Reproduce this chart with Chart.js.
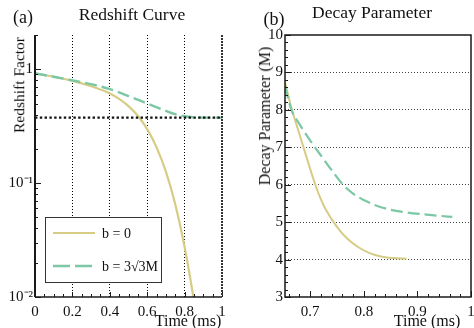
<!DOCTYPE html>
<html><head><meta charset="utf-8">
<script src="https://cdn.jsdelivr.net/npm/chart.js@4/dist/chart.umd.min.js"></script>
<style>
body{margin:0;background:#fff;}
#wrap{position:relative;width:474px;height:328px;overflow:hidden;font-family:"Liberation Serif","Times New Roman",serif;color:#111;}
.cv{position:absolute;top:0;}
.t{position:absolute;white-space:nowrap;line-height:1;transform:translate(-50%,-50%);}
.r{transform:translate(-50%,-50%) rotate(-90deg);}
</style></head>
<body><div id="wrap">
<canvas id="c1" class="cv" width="237" height="328" style="left:0"></canvas>
<canvas id="c2" class="cv" width="237" height="328" style="left:237px"></canvas>
<div class="t" style="left:23px;top:17px;font-size:18px">(a)</div>
<div class="t" style="left:132px;top:15px;font-size:17.5px">Redshift Curve</div>
<div class="t" style="left:274px;top:19px;font-size:18px">(b)</div>
<div class="t" style="left:372px;top:13px;font-size:17.5px">Decay Parameter</div>
<div class="t r" style="left:19px;top:85px;font-size:15.5px">Redshift Factor</div>
<div class="t r" style="left:265px;top:116px;font-size:16px">Decay Parameter (M)</div>
<div class="t" style="left:188px;top:321px;font-size:16px">Time (ms)</div>
<div class="t" style="left:427px;top:321px;font-size:16px">Time (ms)</div>
</div>
<script>
// ---- data: panel (a) Redshift Curve ----
const redshiftTimeB0 = [0, 0.1, 0.2, 0.3, 0.4, 0.45, 0.5, 0.55, 0.6, 0.65, 0.7, 0.75, 0.8, 0.85, 0.9];
const redshiftB0     = [0.920, 0.859, 0.791, 0.710, 0.614, 0.550, 0.475, 0.391, 0.298, 0.206, 0.126, 0.0653, 0.0275, 0.0092, 0.00245];
const redshiftTimeB3 = [0, 0.1, 0.2, 0.3, 0.4, 0.5, 0.6, 0.7, 0.75, 0.8, 0.85, 0.9, 1.0];
const redshiftB3     = [0.920, 0.859, 0.800, 0.740, 0.670, 0.582, 0.501, 0.431, 0.403, 0.387, 0.379, 0.376, 0.376];
const redshiftLimitTime = [0, 1];
const redshiftLimit     = [0.376, 0.376];
const redshiftXTicks = [0, 0.2, 0.4, 0.6, 0.8, 1];
const redshiftXTickLabels = ['0', '0.2', '0.4', '0.6', '0.8', '1'];
const redshiftYTicks = [0.01, 0.1, 1];
const redshiftYTickLabels = ['10\u207B\u00B2', '10\u207B\u00B9', '1'];
// ---- data: panel (b) Decay Parameter ----
const decayTimeB0 = [0.653, 0.665, 0.68, 0.695, 0.71, 0.725, 0.74, 0.755, 0.77, 0.79, 0.81, 0.83, 0.855, 0.88];
const decayB0     = [8.74, 8.05, 7.35, 6.65, 5.98, 5.45, 5.08, 4.78, 4.55, 4.33, 4.18, 4.09, 4.04, 4.02];
const decayTimeB3 = [0.653, 0.665, 0.68, 0.70, 0.72, 0.74, 0.76, 0.78, 0.80, 0.82, 0.85, 0.88, 0.91, 0.94, 0.965];
const decayB3     = [8.62, 8.00, 7.62, 7.18, 6.78, 6.39, 6.02, 5.76, 5.59, 5.46, 5.33, 5.26, 5.21, 5.17, 5.14];
const decayXTicks = [0.7, 0.8, 0.9, 1];
const decayXTickLabels = ['0.7', '0.8', '0.9', '1'];
const decayYTicks = [3, 4, 5, 6, 7, 8, 9, 10];
const seriesLabels = ['b = 0', 'b = 3\u221A3M'];

const YELLOW = '#d6cc85', TEAL = '#7cc7a4', INK = '#1a1a1a';
const FONT = '"Liberation Serif","Times New Roman",serif';
const pts = (xs, ys) => xs.map((x, i) => ({x, y: ys[i]}));

function fixAxis(size) {
  return function (scale) {
    if (scale.isHorizontal()) scale.height = size; else scale.width = size;
    scale.paddingLeft = 0; scale.paddingRight = 0; scale.paddingTop = 0; scale.paddingBottom = 0;
  };
}
function setTicks(values) {
  return function (scale) { scale.ticks = values.map(v => ({value: v})); };
}
function labelFrom(values, labels) {
  return function (v) { const i = values.findIndex(u => Math.abs(u - v) < 1e-9); return i >= 0 ? labels[i] : ''; };
}

const decor = {
  id: 'decor',
  afterDatasetsDraw(chart, args, o) {
    const ctx = chart.ctx, a = chart.chartArea, xs = chart.scales.x, ys = chart.scales.y;
    ctx.save();
    ctx.strokeStyle = INK; ctx.lineWidth = 1; ctx.setLineDash([]);
    o.xTicks.forEach(t => {
      const px = Math.round(xs.getPixelForValue(t.v)) + 0.5;
      ctx.beginPath(); ctx.moveTo(px, a.bottom); ctx.lineTo(px, a.bottom - t.len); ctx.stroke();
    });
    o.yTicks.forEach(t => {
      const py = Math.round(ys.getPixelForValue(t.v)) + 0.5;
      ctx.beginPath(); ctx.moveTo(a.left, py); ctx.lineTo(a.left + t.len, py); ctx.stroke();
    });
    if (o.fullFrame) {
      ctx.lineWidth = 1.5;
      ctx.strokeRect(a.left, a.top, a.right - a.left, a.bottom - a.top);
    } else {
      ctx.lineWidth = 2;
      ctx.beginPath(); ctx.moveTo(a.left, a.top); ctx.lineTo(a.left, a.bottom); ctx.stroke();
      ctx.lineWidth = 1.5;
      ctx.beginPath(); ctx.moveTo(a.left, a.bottom); ctx.lineTo(a.right, a.bottom); ctx.stroke();
      ctx.lineWidth = 2; ctx.strokeStyle = '#333'; ctx.setLineDash([2, 1]);
      ctx.beginPath(); ctx.moveTo(a.right, a.top); ctx.lineTo(a.right, a.bottom); ctx.stroke();
      ctx.setLineDash([]);
    }
    if (o.legend) {
      const L = o.legend;
      ctx.fillStyle = '#fff'; ctx.strokeStyle = '#333'; ctx.lineWidth = 1;
      ctx.fillRect(L.x, L.y, L.w, L.h); ctx.strokeRect(L.x + 0.5, L.y + 0.5, L.w, L.h);
      const dsets = chart.data.datasets.filter(d => d.inLegend);
      dsets.forEach((d, i) => {
        const y = L.rowY[i];
        ctx.strokeStyle = d.borderColor; ctx.lineWidth = d.borderWidth;
        ctx.setLineDash(L.dash[i]);
        ctx.beginPath(); ctx.moveTo(L.lineX0, y); ctx.lineTo(L.lineX1, y); ctx.stroke();
        ctx.setLineDash([]);
        ctx.fillStyle = '#111'; ctx.font = '14px ' + FONT; ctx.textBaseline = 'middle'; ctx.textAlign = 'left';
        ctx.fillText(d.label, L.textX, y + 1);
      });
    }
    ctx.restore();
  }
};

Chart.defaults.font.family = FONT;
Chart.defaults.color = '#111';

// tick-mark positions (drawing aids, not data)
const aXT = []; for (let k = 0; k <= 20; k++) aXT.push({v: k * 0.05, len: (k % 4 === 0) ? 5 : 3});
const aYT = [];
[0.01, 0.1, 1].forEach(d => { for (let m = 1; m <= 9; m++) { const v = d * m; if (v <= 2.0001) aYT.push({v, len: m === 1 ? 6 : 3}); } });
const bXT = []; for (let k = 33; k <= 50; k++) bXT.push({v: k * 0.02, len: (k % 5 === 0) ? 6 : 3});
const bYT = []; for (let k = 15; k <= 50; k++) bYT.push({v: k * 0.2, len: (k % 5 === 0) ? 6 : 3});

new Chart(document.getElementById('c1'), {
  type: 'line',
  data: {
    datasets: [
      {label: 'limit', data: pts(redshiftLimitTime, redshiftLimit), borderColor: '#111', borderWidth: 2.4, borderDash: [2.4, 2.4], pointRadius: 0, tension: 0},
      {label: seriesLabels[1], inLegend: true, data: pts(redshiftTimeB3, redshiftB3), borderColor: TEAL, borderWidth: 2.4, borderDash: [12, 5], pointRadius: 0, cubicInterpolationMode: 'monotone'},
      {label: seriesLabels[0], inLegend: true, data: pts(redshiftTimeB0, redshiftB0), borderColor: YELLOW, borderWidth: 2.2, pointRadius: 0, cubicInterpolationMode: 'monotone'}
    ]
  },
  options: {
    responsive: false, animation: false, devicePixelRatio: 1,
    layout: {padding: {top: 35, right: 15, left: 0, bottom: 0}},
    plugins: {legend: {display: false}, tooltip: {enabled: false},
      decor: {xTicks: aXT, yTicks: aYT, fullFrame: false,
        legend: {x: 45, y: 217, w: 116, h: 65, rowY: [266, 233], lineX0: 53, lineX1: 95, textX: 102, dash: [[17, 5], []]}}},
    scales: {
      x: {type: 'linear', min: 0, max: 1,
        afterBuildTicks: setTicks(redshiftXTicks), afterFit: fixAxis(31),
        ticks: {padding: 6, font: {size: 15}, maxRotation: 0, callback: labelFrom(redshiftXTicks, redshiftXTickLabels)},
        grid: {drawTicks: false, lineWidth: 1, color: c => (c.tick && c.tick.value > 0.01 && c.tick.value < 0.99) ? '#000' : 'rgba(0,0,0,0)'},
        border: {display: false, dash: [1, 2]}},
      y: {type: 'logarithmic', min: 0.01, max: 2,
        afterBuildTicks: setTicks(redshiftYTicks), afterFit: fixAxis(35),
        ticks: {padding: 2, font: {size: 15}, callback: labelFrom(redshiftYTicks, redshiftYTickLabels)},
        grid: {display: false, drawTicks: false}, border: {display: false}}
    }
  },
  plugins: [decor]
});

new Chart(document.getElementById('c2'), {
  type: 'line',
  data: {
    datasets: [
      {label: seriesLabels[1], data: pts(decayTimeB3, decayB3), borderColor: TEAL, borderWidth: 2.2, borderDash: [12, 5], pointRadius: 0, cubicInterpolationMode: 'monotone'},
      {label: seriesLabels[0], data: pts(decayTimeB0, decayB0), borderColor: YELLOW, borderWidth: 2, pointRadius: 0, cubicInterpolationMode: 'monotone'}
    ]
  },
  options: {
    responsive: false, animation: false, devicePixelRatio: 1,
    layout: {padding: {top: 35, right: 3, left: 0, bottom: 0}},
    plugins: {legend: {display: false}, tooltip: {enabled: false},
      decor: {xTicks: bXT, yTicks: bYT, fullFrame: true}},
    scales: {
      x: {type: 'linear', min: 0.653, max: 1,
        afterBuildTicks: setTicks(decayXTicks), afterFit: fixAxis(31),
        ticks: {padding: 6, font: {size: 15}, maxRotation: 0, callback: labelFrom(decayXTicks, decayXTickLabels)},
        grid: {display: false, drawTicks: false}, border: {display: false}},
      y: {type: 'linear', min: 3, max: 10,
        afterBuildTicks: setTicks(decayYTicks), afterFit: fixAxis(48),
        ticks: {padding: 2, font: {size: 15}, callback: v => String(v)},
        grid: {drawTicks: false, lineWidth: 1, color: c => (c.tick && c.tick.value > 3.5 && c.tick.value < 9.5) ? '#444' : 'rgba(0,0,0,0)'},
        border: {display: false, dash: [1, 2]}}
    }
  },
  plugins: [decor]
});
</script>
</body></html>
